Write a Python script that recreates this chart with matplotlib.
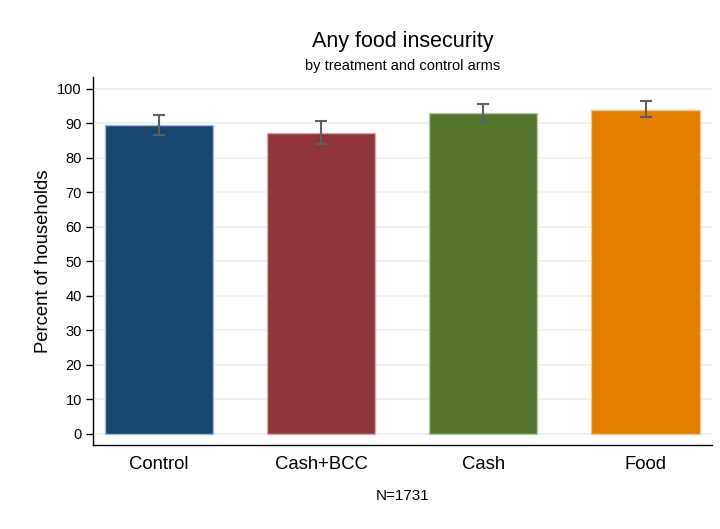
import matplotlib
matplotlib.use("Agg")
import matplotlib.pyplot as plt
import numpy as np

categories = ["Control", "Cash+BCC", "Cash", "Food"]
values = [89.4, 87.3, 93.1, 93.9]
ci_low = [86.6, 84.1, 90.6, 91.7]
ci_high = [92.4, 90.6, 95.6, 96.3]
colors = ["#1a476f", "#90353b", "#55752f", "#e37e00"]
edge_colors = ["#a9bccf", "#d3aeb1", "#b9c9a8", "#f4c58e"]
yticks = list(range(0, 101, 10))

plt.rcParams['font.family'] = ['Liberation Sans', 'DejaVu Sans']

fig = plt.figure(figsize=(7.2, 5.29), dpi=100)
ax = fig.add_axes([93/720, 1-445/529, (712-93)/720, (445-77)/529])

x = np.arange(len(categories))
ax.bar(x, values, width=0.667, color=colors, edgecolor=edge_colors, linewidth=1.0, zorder=2)
yerr = [np.array(values) - np.array(ci_low), np.array(ci_high) - np.array(values)]
ax.errorbar(x, values, yerr=yerr, fmt='none', ecolor="#5f5f5f", elinewidth=1.5,
            capsize=4.5, capthick=1.5, zorder=3)

ax.set_xlim(-0.407, 3.41)
ax.set_ylim(-3.3, 103.4)
ax.set_yticks(yticks)
ax.set_yticklabels([str(t) for t in yticks], fontsize=10.5)
ax.set_xticks(x)
ax.set_xticklabels(categories, fontsize=13.3)
ax.tick_params(axis='x', length=0, pad=8)
ax.tick_params(axis='y', length=5, width=1, pad=3)
ax.yaxis.grid(True, color="#eaf2f3", linewidth=1.2, zorder=0)
ax.set_axisbelow(True)
for s in ["top", "right"]:
    ax.spines[s].set_visible(False)
ax.spines["left"].set_color("black")
ax.spines["bottom"].set_color("black")
ax.spines["left"].set_linewidth(1.0)
ax.spines["bottom"].set_linewidth(1.0)

ax.set_ylabel("Percent of households", fontsize=13.3, labelpad=4)

cx = (93 + 712) / 2 / 720
fig.text(cx, 1 - 42/529, "Any food insecurity", ha='center', va='center', fontsize=15.5)
fig.text(cx, 1 - 66/529, "by treatment and control arms", ha='center', va='center', fontsize=10.5)
fig.text(cx, 1 - 496/529, "N=1731", ha='center', va='center', fontsize=11)

fig.savefig("out.png", dpi=100)
